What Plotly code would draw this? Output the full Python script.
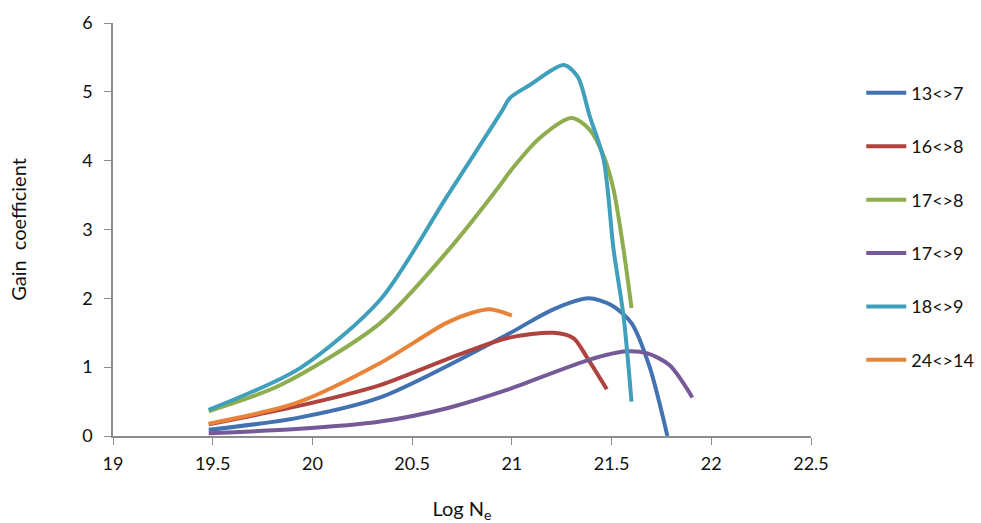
import plotly.graph_objects as go

# Gain coefficient versus electron density (log scale) for six transitions
ne_13_7 = [19.48, 19.92, 20.34, 20.975, 21.2, 21.384, 21.5, 21.6, 21.69, 21.78]
g_13_7 = [0.09, 0.26, 0.56, 1.47, 1.83, 2.00, 1.90, 1.64, 1.01, 0.0]

ne_16_8 = [19.48, 19.92, 20.34, 20.67, 20.975, 21.21, 21.31, 21.375, 21.476]
g_16_8 = [0.17, 0.43, 0.74, 1.11, 1.42, 1.50, 1.42, 1.15, 0.68]

ne_17_8 = [19.48, 19.84, 20.34, 20.67, 20.95, 20.99, 21.14, 21.30, 21.39, 21.46, 21.51, 21.56, 21.60]
g_17_8 = [0.36, 0.74, 1.64, 2.66, 3.68, 3.84, 4.33, 4.62, 4.45, 4.07, 3.58, 2.71, 1.86]

ne_17_9 = [19.48, 19.92, 20.34, 20.67, 20.975, 21.39, 21.576, 21.68, 21.79, 21.905]
g_17_9 = [0.04, 0.10, 0.21, 0.40, 0.67, 1.11, 1.23, 1.20, 1.03, 0.56]

ne_18_9 = [19.48, 19.94, 20.34, 20.67, 20.95, 20.99, 21.09, 21.26, 21.33, 21.39, 21.46, 21.51, 21.56, 21.60]
g_18_9 = [0.38, 0.99, 1.98, 3.46, 4.72, 4.91, 5.10, 5.39, 5.22, 4.65, 4.02, 2.71, 1.74, 0.50]

ne_24_14 = [19.48, 19.92, 20.34, 20.67, 20.8, 20.89, 21.0]
g_24_14 = [0.18, 0.48, 1.06, 1.64, 1.79, 1.84, 1.75]

series = [
    ("13<>7", ne_13_7, g_13_7, "#4272B0"),
    ("16<>8", ne_16_8, g_16_8, "#AE4340"),
    ("17<>8", ne_17_8, g_17_8, "#8EAD4E"),
    ("17<>9", ne_17_9, g_17_9, "#765A97"),
    ("18<>9", ne_18_9, g_18_9, "#40A0BC"),
    ("24<>14", ne_24_14, g_24_14, "#E8843A"),
]

x_ticks = [19, 19.5, 20, 20.5, 21, 21.5, 22, 22.5]
y_ticks = [0, 1, 2, 3, 4, 5, 6]

font_family = "Lato, 'Open Sans', sans-serif"

fig = go.Figure()
for i, (name, xs, ys, color) in enumerate(series):
    fig.add_trace(go.Scatter(
        x=xs, y=ys, name=name, mode="lines",
        line=dict(color=color, width=4, shape="spline", smoothing=0.8),
        legendgroup=str(i),
    ))

fig.update_layout(
    width=981, height=523,
    margin=dict(l=113, r=170, t=23, b=87, autoexpand=False),
    paper_bgcolor="white", plot_bgcolor="white",
    font=dict(family=font_family, size=18, color="#111111"),
    showlegend=True,
    legend=dict(
        x=1.072, y=0.875, xanchor="left", yanchor="top",
        font=dict(size=18), tracegroupgap=27, itemwidth=40,
        bgcolor="rgba(0,0,0,0)",
    ),
    xaxis=dict(
        range=[19, 22.5], tickvals=x_ticks, ticktext=[f"{v:g}" for v in x_ticks],
        showgrid=False, zeroline=False, showline=True, linecolor="#8c8c8c", linewidth=1.5,
        ticks="outside", ticklen=7, tickcolor="#8c8c8c", ticklabelstandoff=4,
        automargin=False,
        title=dict(text="Log N<sub>e</sub>", font=dict(size=20), standoff=30),
    ),
    yaxis=dict(
        range=[0, 6], tickvals=y_ticks,
        showgrid=False, zeroline=False, showline=True, linecolor="#8c8c8c", linewidth=1.5,
        ticks="outside", ticklen=7, tickcolor="#8c8c8c", ticklabelstandoff=8,
        automargin=False,
        title=dict(text="Gain  coefficient", font=dict(size=20), standoff=50),
    ),
)

fig.write_html("out.html")
